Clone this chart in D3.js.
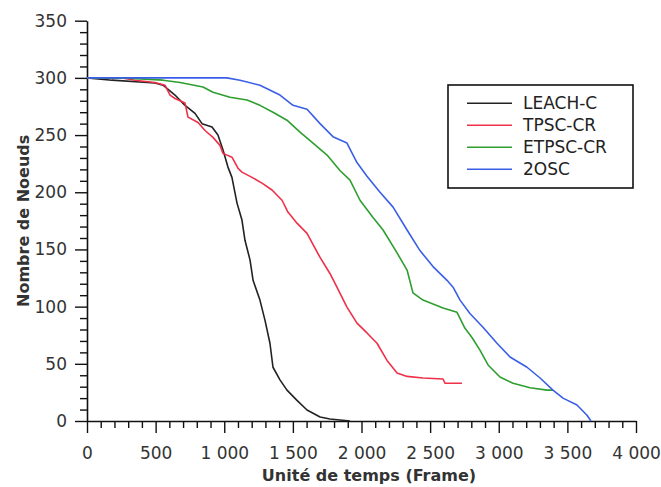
<!DOCTYPE html>
<html>
<head>
<meta charset="utf-8">
<script src="https://cdn.jsdelivr.net/npm/d3@7"></script>
<style>
  html, body { margin: 0; padding: 0; background: #fff; }
  svg { display: block; }
  .tick text { font-family: "DejaVu Sans", sans-serif; font-size: 17px; fill: #333; }
</style>
</head>
<body>
<svg id="chart" width="661" height="487"></svg>
<script>
// Frame (time unit) and number of alive nodes for each protocol
const leachT = [0, 182, 495, 554, 641, 714, 787, 838, 911, 954, 991, 1027, 1056, 1093, 1129, 1151, 1188, 1210, 1260, 1297, 1333, 1355, 1406, 1457, 1530, 1603, 1698, 1770, 1916];
const leachN = [300, 298, 295.5, 293.6, 285, 276, 269, 260, 257, 250, 237, 222, 213, 190.5, 175.7, 158, 140.7, 123, 105.7, 88, 68, 47, 36, 27, 18, 9.6, 3.5, 1.7, 0];

const tpscT = [0, 255, 350, 495, 568, 605, 641, 714, 736, 809, 860, 918, 969, 991, 1056, 1100, 1129, 1202, 1275, 1348, 1421, 1464, 1530, 1603, 1698, 1770, 1821, 1894, 1967, 2040, 2113, 2186, 2259, 2332, 2448, 2594, 2608, 2732];
const tpscN = [300, 300, 298, 296, 293.6, 285, 282, 278, 265.7, 261, 254, 248, 241, 234, 230.7, 221, 217.6, 213, 208, 202, 193, 182.7, 173, 164, 143, 129, 117, 99.6, 85.6, 77, 68, 53, 42, 39, 37.6, 36.7, 33, 33];

const etpscT = [0, 262, 554, 678, 845, 918, 1042, 1166, 1260, 1355, 1457, 1552, 1647, 1749, 1843, 1916, 1989, 2084, 2157, 2259, 2332, 2375, 2448, 2594, 2696, 2754, 2805, 2863, 2922, 3009, 3104, 3228, 3352, 3395];
const etpscN = [300, 300, 298, 296, 292, 287.5, 283, 280.6, 276, 270, 263, 252.6, 243, 232.5, 219, 210.6, 193, 178, 167, 147, 132, 112, 105.7, 98.8, 95, 81, 73, 62, 49, 38.5, 33, 29, 27, 27];

const osc2T = [0, 1020, 1115, 1260, 1406, 1501, 1603, 1698, 1792, 1894, 1967, 2040, 2135, 2230, 2332, 2426, 2521, 2623, 2667, 2718, 2790, 2885, 2987, 3082, 3206, 3301, 3395, 3468, 3570, 3643, 3672];
const osc2N = [300, 300, 298, 293.6, 285, 276, 272.6, 260, 248.6, 243, 226, 214, 200, 187, 167, 149, 135, 123, 117, 105.7, 94, 82, 68, 56, 47, 37.6, 27, 20, 14, 5, 0];

const seriesNames = ["LEACH-C", "TPSC-CR", "ETPSC-CR", "2OSC"];
const seriesColors = ["#222222", "#ee3048", "#2e9e2e", "#3a5fe6"];

const xMajorTicks = [0, 500, 1000, 1500, 2000, 2500, 3000, 3500, 4000];
const yMajorTicks = [0, 50, 100, 150, 200, 250, 300, 350];

const xTitle = "Unité de temps (Frame)";
const yTitle = "Nombre de Noeuds";

const series = [
  { name: seriesNames[0], color: seriesColors[0], t: leachT, n: leachN },
  { name: seriesNames[1], color: seriesColors[1], t: tpscT, n: tpscN },
  { name: seriesNames[2], color: seriesColors[2], t: etpscT, n: etpscN },
  { name: seriesNames[3], color: seriesColors[3], t: osc2T, n: osc2N }
];

const svg = d3.select("#chart");
const margin = { left: 87, right: 25, top: 20.7, bottom: 66 };
const W = 661, H = 487;

const x = d3.scaleLinear().domain([0, 4000]).range([margin.left, W - margin.right]);
const y = d3.scaleLinear().domain([0, 350]).range([H - margin.bottom, margin.top]);

const fr = d3.formatLocale({ decimal: ",", thousands: "\u00a0", grouping: [3], currency: ["", " €"] });
const fmt = fr.format(",d");

// Minor ticks
const xMinor = d3.range(0, 4001, 100).filter(v => v % 500 !== 0);
const yMinor = d3.range(0, 351, 10).filter(v => v % 50 !== 0);

svg.append("g")
  .attr("transform", `translate(0,${y(0)})`)
  .call(d3.axisBottom(x).tickValues(xMinor).tickSize(7).tickSizeOuter(0).tickFormat(""))
  .call(g => g.select(".domain").remove())
  .call(g => g.selectAll("line").attr("stroke", "#111").attr("stroke-width", 1.4));

svg.append("g")
  .attr("transform", `translate(${x(0)},0)`)
  .call(d3.axisLeft(y).tickValues(yMinor).tickSize(7).tickSizeOuter(0).tickFormat(""))
  .call(g => g.select(".domain").remove())
  .call(g => g.selectAll("line").attr("stroke", "#111").attr("stroke-width", 1.4));

// Major axes
svg.append("g")
  .attr("transform", `translate(0,${y(0)})`)
  .call(d3.axisBottom(x).tickValues(xMajorTicks).tickSize(12).tickSizeOuter(0).tickPadding(14).tickFormat(fmt))
  .call(g => g.select(".domain").attr("stroke", "#111").attr("stroke-width", 1.6))
  .call(g => g.selectAll("line").attr("stroke", "#111").attr("stroke-width", 1.4));

svg.append("g")
  .attr("transform", `translate(${x(0)},0)`)
  .call(d3.axisLeft(y).tickValues(yMajorTicks).tickSize(12).tickSizeOuter(0).tickPadding(8))
  .call(g => g.select(".domain").attr("stroke", "#111").attr("stroke-width", 1.6))
  .call(g => g.selectAll("line").attr("stroke", "#111").attr("stroke-width", 1.4));

// Series lines
const line = d3.line().x(d => x(d[0])).y(d => y(d[1]));
svg.append("g").selectAll("path")
  .data(series)
  .join("path")
  .attr("d", s => line(s.t.map((t, i) => [t, s.n[i]])))
  .attr("fill", "none")
  .attr("stroke", s => s.color)
  .attr("stroke-width", 1.6)
  .attr("stroke-linejoin", "round");

// Axis titles
svg.append("text")
  .attr("x", 369).attr("y", 481)
  .attr("text-anchor", "middle")
  .attr("font-family", "DejaVu Sans, sans-serif")
  .attr("font-weight", "bold")
  .attr("font-size", 16)
  .attr("fill", "#333")
  .text(xTitle);

svg.append("text")
  .attr("transform", `translate(29,${(y(0) + y(350)) / 2}) rotate(-90)`)
  .attr("text-anchor", "middle")
  .attr("font-family", "DejaVu Sans, sans-serif")
  .attr("font-weight", "bold")
  .attr("font-size", 16)
  .attr("fill", "#333")
  .text(yTitle);

// Legend
const legend = svg.append("g");
legend.append("rect")
  .attr("x", 448).attr("y", 85).attr("width", 185).attr("height", 103)
  .attr("fill", "#fff").attr("stroke", "#111").attr("stroke-width", 1.6);

const rows = legend.selectAll("g.row")
  .data(series)
  .join("g")
  .attr("class", "row")
  .attr("transform", (d, i) => `translate(0,${103.3 + i * 22})`);

rows.append("line")
  .attr("x1", 467).attr("x2", 512)
  .attr("stroke", d => d.color).attr("stroke-width", 1.6);

rows.append("text")
  .attr("x", 523).attr("dy", "0.36em")
  .attr("font-family", "DejaVu Sans, sans-serif")
  .attr("font-size", 17)
  .attr("fill", "#222")
  .text(d => d.name);
</script>
</body>
</html>
